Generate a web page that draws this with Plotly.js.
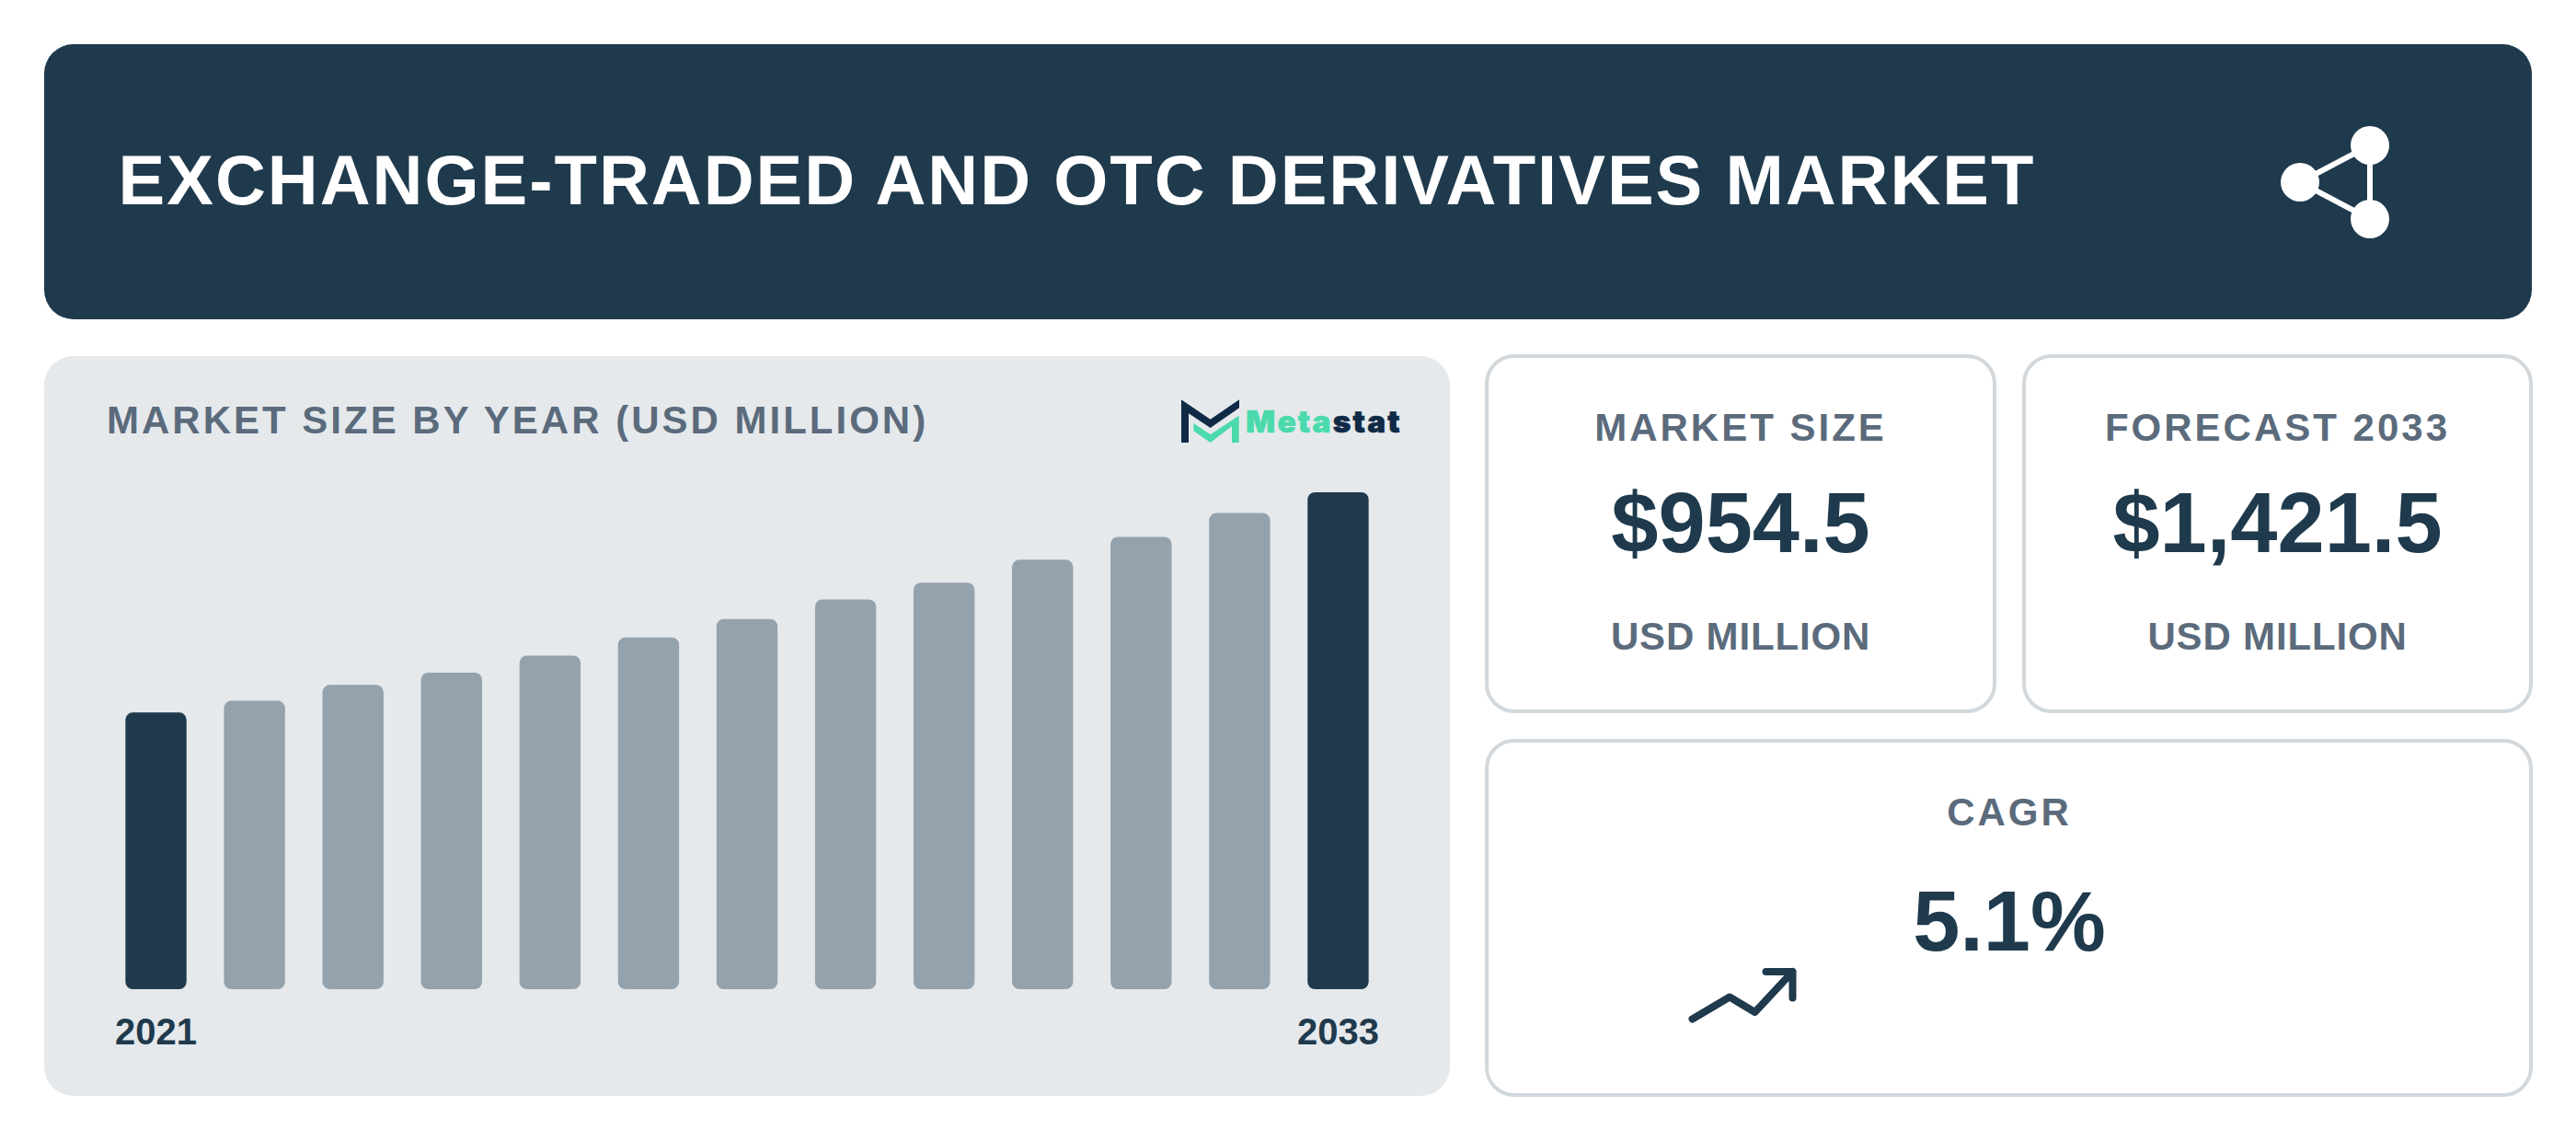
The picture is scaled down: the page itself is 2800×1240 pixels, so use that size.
<!DOCTYPE html>
<html>
<head>
<meta charset="utf-8">
<script src="https://cdn.plot.ly/plotly-3.0.1.min.js"></script>
<style>
html, body { margin: 0; padding: 0; background: #fff; }
#page { position: relative; width: 2800px; height: 1240px; overflow: hidden; font-family: "Liberation Sans", Arial, sans-serif; }
#frame { position: absolute; left: 0; top: 0; }
#chart { position: absolute; left: 48px; top: 387px; width: 1528px; height: 804px; }
text { font-family: "Liberation Sans", Arial, sans-serif; font-weight: 700; }
.label { font-size: 42px; fill: #5b6b7c; letter-spacing: 3px; text-anchor: middle; }
.unit { font-size: 42px; fill: #5b6b7c; letter-spacing: 0.84px; text-anchor: middle; }
.value { font-size: 92px; fill: #1f3a4d; text-anchor: middle; }
</style>
</head>
<body>
<div id="page">
<svg id="frame" width="2800" height="1240" xmlns="http://www.w3.org/2000/svg">
    <rect x="48" y="48" width="2704" height="299" rx="32" fill="#1f3a4d"/>
    <text id="main-title" x="128.5" y="222" font-size="76" fill="#fff" letter-spacing="2"></text>

    <g stroke="#fff" stroke-width="6" fill="none">
        <path d="M2500 198L2576 158V238Z"/>
    </g>
    <g fill="#fff">
        <circle cx="2500" cy="198" r="21"/>
        <circle cx="2576" cy="158" r="21"/>
        <circle cx="2576" cy="238" r="21"/>
    </g>

    <rect x="48" y="387" width="1528" height="804" rx="32" fill="#e5e9ec"/>
    <text id="chart-title" x="116" y="471" font-size="42" fill="#5b6b7c" letter-spacing="3"></text>

    <g transform="translate(1200 400) scale(0.3333)">
        <path d="M252 103L347 167L441 103V130L347 195L276 148V243H252Z" fill="#0f2a46"/>
        <path d="M292 180L347 217L440 155V243H417V190L347 243L292 205Z" fill="#4adaac"/>
        <text x="463" y="210" font-size="100" textLength="502" lengthAdjust="spacing" stroke-width="2" style="font-family:Inter,sans-serif;font-weight:900"><tspan fill="#4adaac" stroke="#4adaac">Meta</tspan><tspan fill="#0f2a46" stroke="#0f2a46">stat</tspan></text>
    </g>

    <g fill="#fff" stroke="#d2d8dc" stroke-width="4">
        <rect x="1616" y="387" width="552" height="386" rx="30"/>
        <rect x="2200" y="387" width="551" height="386" rx="30"/>
        <rect x="1616" y="805" width="1135" height="385" rx="30"/>
    </g>

    <text class="label kpi-label" x="1892" y="479"></text>
    <text class="value kpi-value" x="1892" y="599.5"></text>
    <text class="unit kpi-unit" x="1892" y="705.5"></text>

    <text class="label kpi-label" x="2475.5" y="479"></text>
    <text class="value kpi-value" x="2475.5" y="599.5"></text>
    <text class="unit kpi-unit" x="2475.5" y="705.5"></text>

    <text class="label kpi-label" x="2184" y="897"></text>
    <text class="value kpi-value" x="2184" y="1033"></text>

    <path d="M1839.5 1107.5L1880 1083.5L1907.5 1100L1948.5 1056M1919.5 1056H1948.5V1084.5" fill="none" stroke="#1f3a4d" stroke-width="8" stroke-linecap="round" stroke-linejoin="round"/>
</svg>
<div id="chart"></div>
</div>

<script>
const mainTitle = "EXCHANGE-TRADED AND OTC DERIVATIVES MARKET";
const chartTitle = "MARKET SIZE BY YEAR (USD MILLION)";

const years = ["2021", "2022", "2023", "2024", "2025", "2026", "2027", "2028", "2029", "2030", "2031", "2032", "2033"];
const marketSize = [791.6, 825, 870.5, 905.5, 954.5, 1006.5, 1059, 1115, 1163, 1228.5, 1294, 1362, 1421.5];
const yearTicks = ["2021", "2033"];

const kpiLabels = ["MARKET SIZE", "FORECAST 2033", "CAGR"];
const kpiValues = ["$954.5", "$1,421.5", "5.1%"];
const kpiUnits = ["USD MILLION", "USD MILLION"];

const navy = "#1f3a4d";
const grey = "#94a2ad";

document.querySelector("#main-title").textContent = mainTitle;
document.querySelector("#chart-title").textContent = chartTitle;
document.querySelectorAll(".kpi-label").forEach((el, i) => { el.textContent = kpiLabels[i]; });
document.querySelectorAll(".kpi-value").forEach((el, i) => { el.textContent = kpiValues[i]; });
document.querySelectorAll(".kpi-unit").forEach((el, i) => { el.textContent = kpiUnits[i]; });

// first and last year are highlighted
const barColors = years.map((y) => (yearTicks.includes(y) ? navy : grey));

// an explicit base makes plotly round both ends of the bar
const barTrace = {
    type: "bar",
    x: years,
    y: marketSize,
    base: 0,
    width: 0.62,
    hovertemplate: "%{x}: %{y}<extra></extra>",
    marker: {color: barColors, cornerradius: 8}
};

const layout = {
    width: 1528,
    height: 804,
    margin: {l: 68, r: 68, t: 148, b: 116},
    paper_bgcolor: "rgba(0,0,0,0)",
    plot_bgcolor: "rgba(0,0,0,0)",
    showlegend: false,
    xaxis: {
        type: "category",
        categoryorder: "array",
        categoryarray: years,
        range: [-0.5, 12.5],
        tickmode: "array",
        tickvals: yearTicks,
        ticktext: yearTicks,
        ticklen: 0,
        ticklabelstandoff: 19,
        showgrid: false,
        showline: false,
        zeroline: false,
        tickfont: {family: "Liberation Sans", size: 40, weight: 700, color: navy}
    },
    yaxis: {
        range: [0, 1421.5],
        showgrid: false,
        showline: false,
        zeroline: false,
        showticklabels: false,
        ticklen: 0
    }
};

const plotConfig = {responsive: false, displayModeBar: false};
Plotly.newPlot(document.querySelector("#chart"), [barTrace], layout, plotConfig);
</script>
</body>
</html>
